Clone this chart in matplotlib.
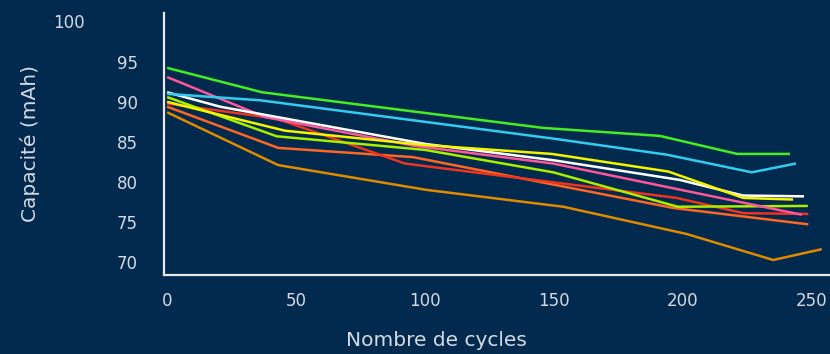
import matplotlib
matplotlib.use("Agg")
import matplotlib.pyplot as plt

# ---- data (cycles, capacity mAh) ----
green_x = [0, 36.8, 145.7, 191, 221, 241.5]
green_y = [94.25, 91.2, 86.75, 85.75, 83.5, 83.5]

cyan_x = [0, 36, 150, 193.8, 226.7, 243.8]
cyan_y = [91.0, 90.2, 85.4, 83.4, 81.2, 82.3]

white_x = [0, 20.5, 100, 150, 198.8, 223.3, 246.9]
white_y = [91.2, 89.4, 84.75, 82.7, 80.25, 78.3, 78.2]

pink_x = [0, 38, 96.1, 149.6, 246.1]
pink_y = [93.1, 88.1, 84.5, 82.3, 75.9]

yellow_x = [0, 45.7, 100, 149.1, 194.3, 223.4, 242.7]
yellow_y = [90.0, 86.4, 84.6, 83.5, 81.3, 78.0, 77.8]

lime_x = [0, 42.5, 100, 149.7, 198, 248.4]
lime_y = [90.6, 85.7, 84.0, 81.2, 76.9, 77.0]

red_x = [0, 42.6, 92.2, 197.6, 223.4, 248.6]
red_y = [89.8, 87.9, 82.3, 78.0, 76.1, 76.0]

orange_x = [0, 43.1, 95.3, 196.2, 248.6]
orange_y = [89.4, 84.25, 83.1, 76.75, 74.7]

dorange_x = [0, 43.1, 100.7, 153.6, 201.4, 235, 253.8]
dorange_y = [88.7, 82.1, 79.0, 76.9, 73.5, 70.25, 71.6]

yticks = [70, 75, 80, 85, 90, 95]
xticks = [0, 50, 100, 150, 200, 250]

BG = "#022a4e"
TXT = "#d4dae3"

plt.rcParams['font.family'] = ['DejaVu Sans']

fig = plt.figure(figsize=(8.3, 3.54), dpi=100, facecolor=BG)
ax = fig.add_axes([164/830, 79/354, 1 - 164/830, (275-13)/354])
ax.set_facecolor(BG)

series = [
    (dorange_x, dorange_y, "#e08a00"),
    (orange_x, orange_y, "#ff6622"),
    (red_x, red_y, "#ee3322"),
    (lime_x, lime_y, "#aaee00"),
    (pink_x, pink_y, "#ff5599"),
    (white_x, white_y, "#ffffff"),
    (yellow_x, yellow_y, "#f5f500"),
    (cyan_x, cyan_y, "#33ccf0"),
    (green_x, green_y, "#44ee22"),
]
for xs, ys, c in series:
    ax.plot(xs, ys, color=c, lw=1.8, solid_joinstyle='miter', solid_capstyle='butt')

ax.set_xlim(-1.2, 257)
ax.set_ylim(68.375, 101.1)
ax.set_xticks(xticks)
ax.set_yticks(yticks)
ax.tick_params(axis='both', length=0, colors=TXT, labelsize=12)
ax.tick_params(axis='y', pad=19)
ax.tick_params(axis='x', pad=12)

for s in ['top', 'right']:
    ax.spines[s].set_visible(False)
for s in ['left', 'bottom']:
    ax.spines[s].set_color('#e6e9ef')
    ax.spines[s].set_linewidth(1.6)

fig.text(85/830, 1 - 23/354, "100", color=TXT, fontsize=12, ha='right', va='center')
fig.text(30/830, 1 - 143/354, "Capacité (mAh)", color=TXT, fontsize=14.5, rotation=90,
         ha='center', va='center')
fig.text(436/830, 1 - 340/354, "Nombre de cycles", color=TXT, fontsize=14.5,
         ha='center', va='center')

fig.savefig("out.png", dpi=100, facecolor=BG)
